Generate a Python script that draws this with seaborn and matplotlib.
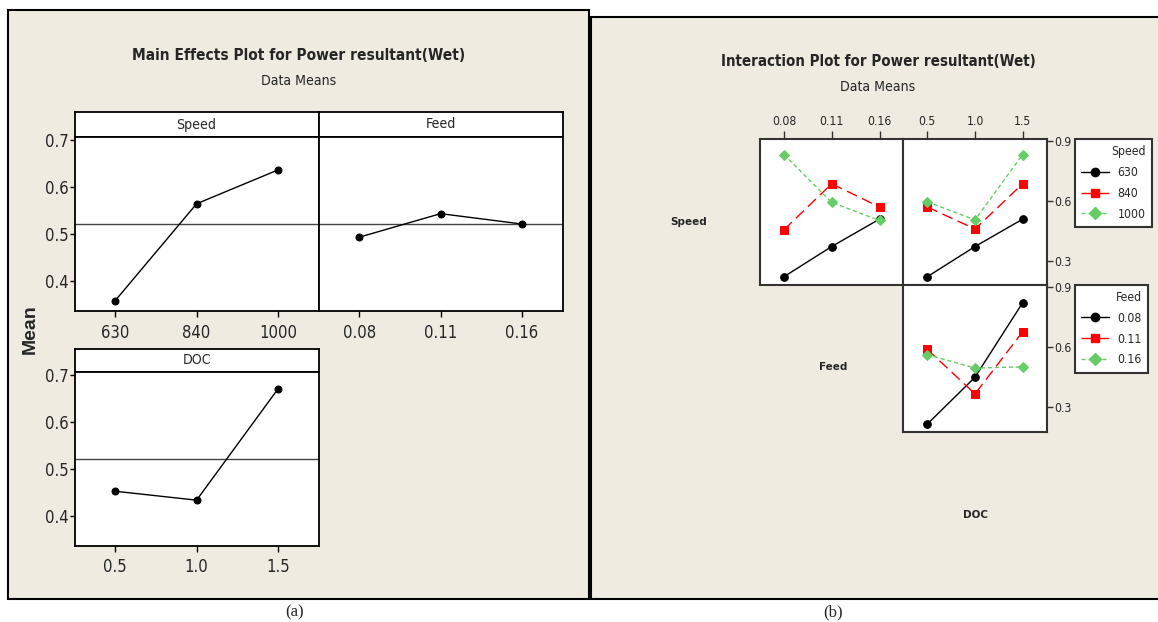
import matplotlib
matplotlib.use("Agg")
import matplotlib.pyplot as plt
from matplotlib.patches import Rectangle
from matplotlib.lines import Line2D
from matplotlib import font_manager as fm
import seaborn as sns
import pandas as pd

# ---------------- data ----------------
speed_levels = ['630', '840', '1000']
feed_levels = ['0.08', '0.11', '0.16']
doc_levels = ['0.5', '1.0', '1.5']

main_speed = [0.358, 0.564, 0.636]
main_feed = [0.493, 0.543, 0.521]
main_doc = [0.452, 0.433, 0.670]
grand_mean = 0.52

# interaction: rows = Speed levels, cols = Feed levels
speed_feed_630 = [0.219, 0.371, 0.509]
speed_feed_840 = [0.455, 0.687, 0.570]
speed_feed_1000 = [0.834, 0.593, 0.502]
# rows = Speed levels, cols = DOC levels
speed_doc_630 = [0.219, 0.371, 0.509]
speed_doc_840 = [0.570, 0.459, 0.687]
speed_doc_1000 = [0.596, 0.505, 0.834]
# rows = Feed levels, cols = DOC levels
feed_doc_008 = [0.212, 0.448, 0.823]
feed_doc_011 = [0.588, 0.364, 0.677]
feed_doc_016 = [0.561, 0.494, 0.500]

# ---------------- style ----------------
sns.set_style("ticks")

names = {f.name for f in fm.fontManager.ttflist}
dejavu_cond = any(f.name == 'DejaVu Sans' and 'cond' in str(f.stretch).lower()
                  for f in fm.fontManager.ttflist)
if 'Liberation Sans Narrow' in names:
    plt.rcParams['font.family'] = ['Liberation Sans Narrow', 'DejaVu Sans']
    K = 1.0
elif dejavu_cond:
    plt.rcParams['font.family'] = ['DejaVu Sans']
    plt.rcParams['font.stretch'] = 'condensed'
    K = 0.92
elif 'Roboto Condensed' in names:
    plt.rcParams['font.family'] = ['Roboto Condensed', 'DejaVu Sans']
    K = 1.0
else:
    plt.rcParams['font.family'] = ['Liberation Sans', 'DejaVu Sans']
    K = 0.86

W, H = 1158, 622
BEIGE = '#EFEBE1'
COLORS = ['black', '#FF0000', '#66CC66']
MARKERS = ['o', 's', 'D']
LINESTYLES = ['-', (0, (8, 4)), (0, (3, 2))]

fig = plt.figure(figsize=(W / 100, H / 100), dpi=100, facecolor='white')


def rect(x0, y0, x1, y1):
    return [x0 / W, 1 - y1 / H, (x1 - x0) / W, (y1 - y0) / H]


# panel backgrounds
fig.patches.append(Rectangle((8 / W, 1 - 599 / H), (589 - 8) / W, (599 - 10) / H,
                             transform=fig.transFigure, facecolor=BEIGE,
                             edgecolor='black', lw=1.5, zorder=-5))
fig.patches.append(Rectangle((591 / W, 1 - 599 / H), (1165 - 591) / W, (599 - 17) / H,
                             transform=fig.transFigure, facecolor=BEIGE,
                             edgecolor='black', lw=1.5, zorder=-5))

# ---------------- (a) main effects ----------------
fig.text(299 / W, 1 - 56 / H, 'Main Effects Plot for Power resultant(Wet)',
         ha='center', va='center', fontsize=12 * K, fontweight='bold')
fig.text(299 / W, 1 - 81 / H, 'Data Means', ha='center', va='center', fontsize=11 * K)
fig.text(30.5 / W, 1 - 329 / H, 'Mean', rotation=90, ha='center', va='center',
         fontsize=14, fontweight='bold', family=['Liberation Sans', 'DejaVu Sans'],
         stretch='normal')


def strip(box, label):
    sa = fig.add_axes(rect(*box))
    sa.set_facecolor('white')
    sa.set_xticks([])
    sa.set_yticks([])
    for s in sa.spines.values():
        s.set_linewidth(1.3)
        s.set_color('black')
    sa.text(0.5, 0.5, label, ha='center', va='center', fontsize=11 * K,
            transform=sa.transAxes)
    return sa


def main_panel(box, levels, values, show_y):
    ax = fig.add_axes(rect(*box))
    ax.set_facecolor('white')
    df = pd.DataFrame({'level': levels, 'mean': values})
    ax.axhline(grand_mean, color='#444444', lw=1, zorder=1)
    sns.pointplot(data=df, x='level', y='mean', order=levels, color='black',
                  markers='o', markersize=5, linewidth=1, errorbar=None, ax=ax)
    ax.set_xlim(-0.5, 2.5)
    ax.set_ylim(0.336, 0.706)
    ax.set_xlabel('')
    ax.set_ylabel('')
    ax.set_yticks([0.4, 0.5, 0.6, 0.7])
    ax.set_yticklabels(['0.4', '0.5', '0.6', '0.7'])
    ax.tick_params(axis='x', direction='out', length=4, width=1,
                   labelsize=13 * K, pad=5, color='black')
    ax.tick_params(axis='y', direction='out', length=3.5, width=1,
                   labelsize=13 * K, pad=0.5, color='black')
    if not show_y:
        ax.tick_params(axis='y', left=False, labelleft=False)
    for s in ax.spines.values():
        s.set_visible(True)
        s.set_linewidth(1.3)
        s.set_color('black')
    return ax


strip((74.5, 112, 318.7, 137), 'Speed')
main_panel((74.5, 137, 318.7, 311), speed_levels, main_speed, True)
strip((318.7, 112, 562.5, 137), 'Feed')
main_panel((318.7, 137, 562.5, 311), feed_levels, main_feed, False)
strip((74.5, 349, 318.7, 372), 'DOC')
main_panel((74.5, 372, 318.7, 545.7), doc_levels, main_doc, True)

fig.text(295 / W, 1 - 612 / H, '(a)', ha='center', va='center', fontsize=12,
         family=['Liberation Serif', 'DejaVu Serif'], stretch='normal')

# ---------------- (b) interaction ----------------
fig.text(878 / W, 1 - 61 / H, 'Interaction Plot for Power resultant(Wet)',
         ha='center', va='center', fontsize=11.8 * K, fontweight='bold')
fig.text(878 / W, 1 - 87 / H, 'Data Means', ha='center', va='center', fontsize=11 * K)


def inter_panel(box, xlevels, glevels, rows, ylim, top, right):
    ax = fig.add_axes(rect(*box))
    ax.set_facecolor('white')
    recs = []
    for g, vals in zip(glevels, rows):
        for xl, v in zip(xlevels, vals):
            recs.append({'x': xl, 'g': g, 'v': v})
    df = pd.DataFrame(recs)
    sns.pointplot(data=df, x='x', y='v', hue='g', order=xlevels, hue_order=glevels,
                  palette=COLORS, markers=MARKERS, linestyles=LINESTYLES,
                  markersize=5.5, linewidth=1, errorbar=None, legend=False, ax=ax)
    ax.set_xlim(-0.5, 2.5)
    ax.set_ylim(*ylim)
    ax.set_xlabel('')
    ax.set_ylabel('')
    ax.set_yticks([0.3, 0.6, 0.9])
    ax.set_yticklabels(['0.3', '0.6', '0.9'])
    ax.tick_params(axis='x', direction='out', length=6, width=1,
                   labelsize=9.5 * K, pad=2, color='#333333')
    ax.tick_params(axis='y', direction='out', length=4, width=1,
                   labelsize=9.5 * K, pad=1.5, color='#333333')
    ax.tick_params(axis='x', bottom=False, labelbottom=False,
                   top=top, labeltop=top)
    ax.tick_params(axis='y', left=False, labelleft=False,
                   right=right, labelright=right)
    for s in ax.spines.values():
        s.set_visible(True)
        s.set_linewidth(1.5)
        s.set_color('#333333')
    return ax


inter_panel((760, 139, 903.4, 284.7), feed_levels, speed_levels,
            [speed_feed_630, speed_feed_840, speed_feed_1000], (0.179, 0.912), True, False)
inter_panel((903.4, 139, 1046.6, 284.7), doc_levels, speed_levels,
            [speed_doc_630, speed_doc_840, speed_doc_1000], (0.179, 0.912), True, True)
inter_panel((903.4, 284.7, 1046.6, 432.3), doc_levels, feed_levels,
            [feed_doc_008, feed_doc_011, feed_doc_016], (0.171, 0.913), False, True)


def make_legend(title, labels, y_top):
    handles = [Line2D([0], [0], color=c, marker=m, linestyle=ls, lw=1,
                      markersize=ms)
               for c, m, ls, ms in zip(COLORS, MARKERS, LINESTYLES, [6, 6, 6.5])]
    leg = fig.legend(handles, labels, title=title, loc='upper left',
                     bbox_to_anchor=(1075 / W, 1 - y_top / H),
                     frameon=True, fancybox=False, edgecolor='#333333',
                     facecolor='white', framealpha=1, fontsize=9.5 * K,
                     title_fontsize=9.5 * K, alignment='right', handlelength=2.3,
                     handletextpad=0.7, labelspacing=0.65, borderpad=0.5,
                     borderaxespad=0)
    leg.get_frame().set_linewidth(1.5)
    return leg


make_legend('Speed', speed_levels, 139)
make_legend('Feed', feed_levels, 284.7)

fig.text(689 / W, 1 - 222 / H, 'Speed', ha='center', va='center', fontsize=9 * K,
         fontweight='bold')
fig.text(833 / W, 1 - 367 / H, 'Feed', ha='center', va='center', fontsize=9 * K,
         fontweight='bold')
fig.text(975 / W, 1 - 515 / H, 'DOC', ha='center', va='center', fontsize=9 * K,
         fontweight='bold')

fig.text(833 / W, 1 - 612 / H, '(b)', ha='center', va='center', fontsize=12,
         family=['Liberation Serif', 'DejaVu Serif'], stretch='normal')

fig.savefig('out.png', dpi=100, facecolor='white')
